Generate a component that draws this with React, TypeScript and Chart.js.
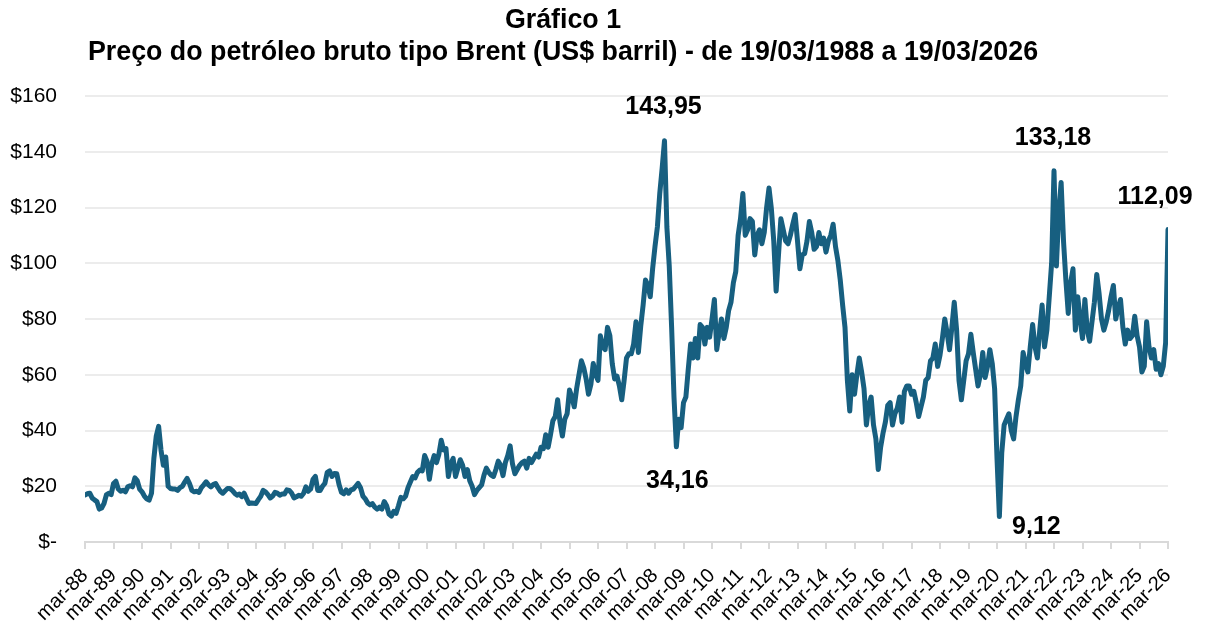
import React, { useEffect, useRef } from 'react';
import { Chart, registerables } from 'chart.js';

Chart.register(...registerables);

const FONT = "'Liberation Sans', Arial, Helvetica, sans-serif";

const titleLines = [
  'Gráfico 1',
  'Preço do petróleo bruto tipo Brent (US$ barril) - de 19/03/1988 a 19/03/2026',
];

const tickLabels = [
  'mar-88', 'mar-89', 'mar-90', 'mar-91', 'mar-92', 'mar-93', 'mar-94', 'mar-95', 'mar-96', 'mar-97',
  'mar-98', 'mar-99', 'mar-00', 'mar-01', 'mar-02', 'mar-03', 'mar-04', 'mar-05', 'mar-06', 'mar-07',
  'mar-08', 'mar-09', 'mar-10', 'mar-11', 'mar-12', 'mar-13', 'mar-14', 'mar-15', 'mar-16', 'mar-17',
  'mar-18', 'mar-19', 'mar-20', 'mar-21', 'mar-22', 'mar-23', 'mar-24', 'mar-25', 'mar-26',
];

const yTickValues = [0, 20, 40, 60, 80, 100, 120, 140, 160];

// Monthly Brent values (US$/barrel), Mar 1988 .. Dec 1999
const prices1988to1999 = [
  16.9, 17.3, 17.5, 15.8, 15.1, 14.5, 11.8, 12.2, 13.8, 16.9, // 1988 (Mar-Dec)
  17.5, 17.0, 21.0, 21.8, 19.0, 18.2, 18.6, 18.0, 19.8, 20.2, 19.8, 23.0, // 1989
  22.0, 19.0, 18.0, 16.5, 15.5, 15.0, 17.5, 30.0, 38.0, 41.5, 33.0, 27.5, // 1990
  30.5, 20.0, 19.2, 19.0, 19.0, 18.5, 19.5, 20.0, 21.5, 22.8, 21.0, 18.5, // 1991
  18.0, 18.2, 17.8, 19.5, 20.5, 21.6, 20.5, 19.8, 20.6, 21.0, 19.5, 18.2, // 1992
  17.5, 18.4, 19.2, 19.2, 18.5, 17.5, 16.8, 17.2, 16.3, 17.5, 15.6, 13.8, // 1993
  14.0, 13.9, 13.8, 15.2, 16.4, 18.5, 18.0, 17.0, 15.8, 16.5, 17.8, 17.5, // 1994
  16.8, 17.2, 17.2, 18.7, 18.5, 17.5, 15.8, 16.2, 16.8, 16.4, 17.4, 19.8, // 1995
  18.2, 19.0, 22.5, 23.5, 18.5, 18.5, 20.0, 21.0, 25.0, 25.5, 23.5, 24.6, // 1996
  24.5, 20.5, 17.8, 17.3, 18.7, 17.5, 18.7, 19.0, 20.0, 21.0, 19.5, 16.5, // 1997
  15.5, 14.0, 13.3, 13.8, 12.5, 11.8, 12.5, 11.8, 14.5, 13.0, 10.0, 9.3, // 1998
  11.0, 10.3, 13.0, 16.0, 15.5, 16.5, 19.5, 21.5, 23.5, 23.0, 25.0, 25.8, // 1999
];

// Jan 2000 .. Dec 2009
const prices2000to2009 = [
  25.5, 31.0, 29.0, 22.5, 28.0, 31.0, 28.5, 31.5, 36.5, 33.0, 33.5, 23.5, // 2000
  28.0, 30.0, 23.5, 26.5, 29.5, 27.5, 23.5, 26.0, 22.0, 20.0, 17.0, 18.5, // 2001
  19.5, 20.5, 24.0, 26.5, 25.0, 24.0, 23.5, 26.0, 29.0, 27.5, 23.8, 28.5, // 2002
  31.0, 34.5, 28.0, 24.5, 26.0, 27.5, 28.5, 29.0, 26.5, 30.0, 28.5, 30.0, // 2003
  31.5, 30.5, 34.0, 33.5, 38.5, 34.0, 38.5, 43.5, 45.0, 51.0, 43.0, 38.0, // 2004
  44.0, 46.0, 54.5, 52.0, 48.5, 55.0, 60.0, 65.0, 62.5, 58.5, 53.0, 56.5, // 2005
  64.0, 60.0, 58.0, 74.0, 70.0, 69.0, 77.0, 74.0, 64.0, 58.5, 59.5, 56.0, // 2006
  51.0, 58.0, 66.0, 67.5, 67.5, 71.0, 79.0, 68.0, 77.5, 85.0, 94.0, 92.0, // 2007
  88.0, 98.0, 106.0, 113.0, 125.0, 134.0, 143.95, 113.0, 99.0, 77.0, 52.0, 34.16, // 2008
  44.0, 41.0, 50.0, 52.0, 62.0, 71.0, 66.0, 73.0, 66.0, 78.0, 77.0, 71.0, // 2009
];

// Jan 2010 .. Dec 2019
const prices2010to2019 = [
  77.0, 73.5, 80.0, 87.0, 69.0, 75.0, 80.0, 73.0, 77.0, 83.0, 86.0, 93.0, // 2010
  97.0, 110.0, 116.0, 125.0, 110.0, 112.0, 116.0, 115.0, 103.0, 110.0, 112.0, 107.0, // 2011
  111.0, 120.0, 127.0, 119.5, 108.0, 90.0, 103.0, 116.0, 112.0, 108.0, 107.0, 110.0, // 2012
  114.0, 117.5, 108.0, 98.0, 103.0, 103.5, 108.0, 115.0, 111.0, 105.0, 106.0, 111.0, // 2013
  107.0, 109.0, 104.0, 108.0, 110.0, 114.0, 106.0, 101.0, 94.0, 85.0, 77.0, 58.0, // 2014
  47.0, 60.0, 53.0, 60.0, 66.0, 61.0, 55.0, 42.0, 49.0, 52.0, 42.0, 37.0, // 2015
  26.0, 34.0, 39.0, 43.0, 49.0, 50.0, 42.0, 46.0, 48.0, 52.0, 43.0, 54.0, // 2016
  56.0, 56.0, 53.0, 54.0, 50.0, 45.0, 48.5, 52.0, 58.0, 59.0, 65.0, 66.0, // 2017
  71.0, 63.0, 67.0, 73.0, 80.0, 75.0, 69.0, 77.0, 86.0, 76.0, 58.0, 51.0, // 2018
  58.0, 65.0, 67.5, 74.5, 68.0, 62.0, 56.0, 60.0, 68.0, 59.0, 63.0, 69.0, // 2019
];

// Jan 2020 .. Mar 2026
const prices2020to2026 = [
  64.0, 55.0, 30.0, 9.12, 32.0, 42.0, 44.0, 46.0, 40.0, 37.0, 45.0, 51.0, // 2020
  56.0, 68.0, 64.0, 61.0, 70.0, 78.0, 70.0, 66.0, 76.0, 85.0, 70.0, 76.0, // 2021
  88.0, 100.0, 133.18, 99.0, 118.0, 129.0, 108.0, 94.0, 82.0, 93.0, 98.0, 76.0, // 2022
  88.0, 80.0, 73.0, 87.0, 76.0, 72.0, 79.0, 86.0, 96.0, 89.0, 80.0, 76.0, // 2023
  79.0, 83.0, 88.0, 92.0, 80.0, 84.0, 87.0, 77.0, 71.0, 76.0, 73.0, 74.0, // 2024
  81.0, 74.0, 70.0, 61.0, 63.0, 79.0, 70.0, 66.0, 69.0, 62.0, 64.0, 60.0, // 2025
  63.0, 71.5, 112.09, // 2026 (Jan-Mar)
];

const brentPrices = [...prices1988to1999, ...prices2000to2009, ...prices2010to2019, ...prices2020to2026];

const highlightedValues = [143.95, 34.16, 9.12, 133.18, 112.09];

const LINE_COLOR = '#175f80';

export default function App() {
  const canvasRef = useRef<HTMLCanvasElement | null>(null);

  useEffect(() => {
    const canvas = canvasRef.current;
    if (!canvas) return;

    const labelOffsets = [
      { dx: -1, dy: -34 },
      { dx: 1, dy: 34 },
      { dx: 37, dy: 11 },
      { dx: -1, dy: -33 },
      { dx: -13, dy: -32 },
    ];

    const titlePlugin = {
      id: 'customTitle',
      afterDraw(chart: any) {
        const { ctx } = chart;
        ctx.save();
        ctx.fillStyle = '#000';
        ctx.textAlign = 'center';
        ctx.textBaseline = 'alphabetic';
        ctx.font = `bold 26.8px ${FONT}`;
        ctx.fillText(titleLines[0], 563, 28);
        ctx.fillText(titleLines[1], 563, 60);
        ctx.restore();
      },
    };

    const labelPlugin = {
      id: 'peakLabels',
      afterDatasetsDraw(chart: any) {
        const { ctx } = chart;
        const xs = chart.scales.x;
        const ys = chart.scales.y;
        ctx.save();
        ctx.fillStyle = '#000';
        ctx.textAlign = 'center';
        ctx.textBaseline = 'middle';
        ctx.font = `bold 25px ${FONT}`;
        highlightedValues.forEach((val, k) => {
          const idx = brentPrices.indexOf(val);
          const px = xs.getPixelForValue(idx) + labelOffsets[k].dx;
          const py = ys.getPixelForValue(val) + labelOffsets[k].dy;
          ctx.fillText(val.toFixed(2).replace('.', ','), px, py);
        });
        ctx.restore();
      },
    };

    const points = brentPrices.map((v, i) => ({ x: i, y: v }));

    const chart = new Chart(canvas, {
      type: 'line',
      data: {
        datasets: [
          {
            data: points,
            borderColor: LINE_COLOR,
            backgroundColor: LINE_COLOR,
            borderWidth: 5,
            pointRadius: 0,
            pointHoverRadius: 0,
            tension: 0,
            fill: false,
            borderJoinStyle: 'round',
            borderCapStyle: 'round',
          },
        ],
      },
      options: {
        animation: false,
        responsive: true,
        maintainAspectRatio: false,
        layout: { padding: { top: 96, right: 38, left: 0, bottom: 0 } },
        plugins: {
          legend: { display: false },
          tooltip: { enabled: false },
          title: { display: false },
        },
        scales: {
          x: {
            type: 'linear',
            min: 0,
            max: (tickLabels.length - 1) * 12,
            afterBuildTicks: (scale: any) => {
              scale.ticks = tickLabels.map((_, k) => ({ value: k * 12 }));
            },
            afterFit: (scale: any) => {
              scale.height = 82;
            },
            ticks: {
              autoSkip: false,
              minRotation: 45,
              maxRotation: 45,
              padding: 15,
              color: '#000',
              font: { family: FONT, size: 20 },
              callback: (v: any) => tickLabels[Math.round(Number(v) / 12)] ?? '',
            },
            grid: {
              display: true,
              drawOnChartArea: false,
              drawTicks: true,
              tickLength: 7,
              color: '#d9d9d9',
              lineWidth: 2,
            },
            border: { display: true, color: '#d9d9d9', width: 2 },
          },
          y: {
            min: yTickValues[0],
            max: yTickValues[yTickValues.length - 1],
            afterBuildTicks: (scale: any) => {
              scale.ticks = yTickValues.map((v) => ({ value: v }));
            },
            afterFit: (scale: any) => {
              scale.width = 85;
            },
            ticks: {
              padding: 28,
              color: '#000',
              font: { family: FONT, size: 21 },
              callback: (v: any) => (Number(v) === 0 ? '$-' : '$' + v),
            },
            grid: { color: '#ececec', lineWidth: 2, drawTicks: false },
            border: { display: false },
          },
        },
      } as any,
      plugins: [titlePlugin, labelPlugin],
    });

    return () => {
      chart.destroy();
    };
  }, []);

  return (
    <div style={{ position: 'absolute', left: 0, top: 0, width: 1206, height: 624, background: '#fff' }}>
      <canvas ref={canvasRef} />
    </div>
  );
}
